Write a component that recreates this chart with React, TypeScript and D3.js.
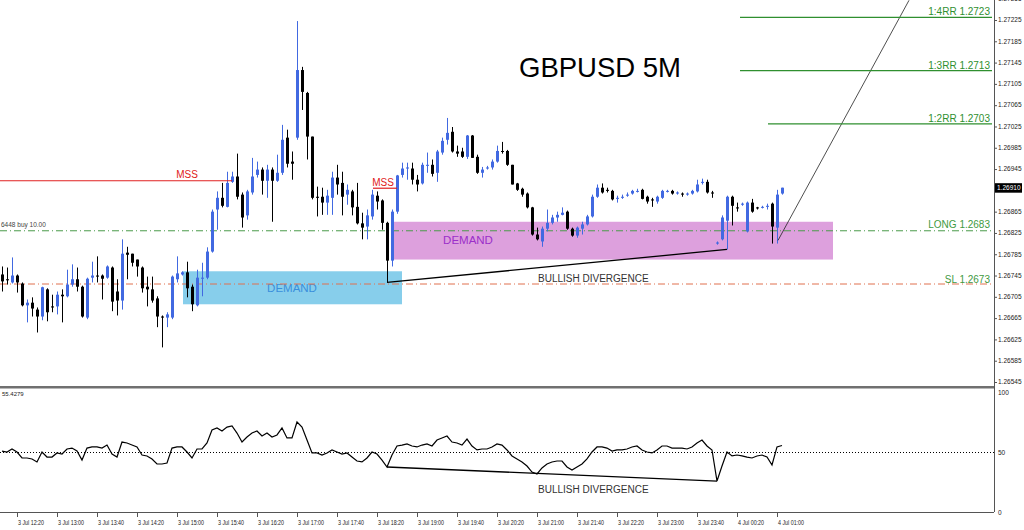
import React from "react";
import * as d3 from "d3";

// GBPUSD M5 candles, 3 Jul 12:05 -> 4 Jul 01:05
const open = [
  1.26747, 1.26738, 1.26732, 1.26745, 1.2673, 1.26689, 1.26694, 1.26681, 1.26668, 1.26719,
  1.26687, 1.26687, 1.26709, 1.26706, 1.26728, 1.26738, 1.26724, 1.26666, 1.26741, 1.26745,
  1.26745, 1.26741, 1.2676, 1.26715, 1.26698, 1.26788, 1.26786, 1.26775, 1.2676, 1.26724,
  1.26719, 1.26702, 1.26668, 1.26666, 1.26666, 1.26738, 1.26747, 1.26751, 1.26724, 1.26689,
  1.26739, 1.26741, 1.2679, 1.26869, 1.26891, 1.26874, 1.26921, 1.26931, 1.26897, 1.26858,
  1.26901, 1.26934, 1.26944, 1.26923, 1.26944, 1.26923, 1.26938, 1.27004, 1.26959, 1.27004,
  1.27131, 1.27088, 1.27006, 1.26893, 1.26893, 1.26882, 1.26891, 1.26929, 1.26919, 1.26897,
  1.26903, 1.26874, 1.26843, 1.26837, 1.26856, 1.26895, 1.26886, 1.26844, 1.26773, 1.26865,
  1.26934, 1.26946, 1.26946, 1.26925, 1.26918, 1.26951, 1.26953, 1.26938, 1.26976, 1.27,
  1.27015, 1.26978, 1.26978, 1.26968, 1.27008, 1.26968, 1.26938, 1.26946, 1.26948, 1.26959,
  1.26979, 1.26979, 1.26953, 1.26918, 1.26908, 1.26899, 1.26873, 1.26822, 1.26809, 1.26833,
  1.26844, 1.26854, 1.26859, 1.26865, 1.26833, 1.2682, 1.26833, 1.26841, 1.26856, 1.26893,
  1.2691, 1.26906, 1.26904, 1.26889, 1.26891, 1.26895, 1.26899, 1.26903, 1.26906, 1.26893,
  1.26888, 1.26884, 1.26891, 1.26903, 1.26904, 1.26899, 1.26899, 1.26897, 1.26899, 1.26903,
  1.26919, 1.26921, 1.26901, 1.26805, 1.26813, 1.26848, 1.26893, 1.26873, 1.26878, 1.26828,
  1.26882, 1.26873, 1.26873, 1.26874, 1.2688, 1.26835, 1.26899,
];
const high = [
  1.26762, 1.2676, 1.26779, 1.26747, 1.26732, 1.267, 1.26704, 1.26685, 1.26724, 1.26721,
  1.26709, 1.26715, 1.26719, 1.26756, 1.26766, 1.2676, 1.26726, 1.26741, 1.26771, 1.26781,
  1.26747, 1.26764, 1.26762, 1.26738, 1.26813, 1.26799, 1.26786, 1.26775, 1.26762, 1.26743,
  1.26743, 1.26706, 1.2667, 1.26676, 1.26745, 1.26781, 1.26753, 1.26771, 1.26728, 1.26756,
  1.26769, 1.26798, 1.26869, 1.26903, 1.26919, 1.2694, 1.2694, 1.26974, 1.26901, 1.26906,
  1.26966, 1.26959, 1.26948, 1.26953, 1.26948, 1.26972, 1.27028, 1.27019, 1.26978, 1.27223,
  1.27137, 1.2709, 1.27006, 1.26912, 1.2691, 1.26906, 1.2694, 1.26953, 1.2694, 1.26916,
  1.26906, 1.26919, 1.26863, 1.26869, 1.26906, 1.26903, 1.26888, 1.26846, 1.26869, 1.26934,
  1.26957, 1.26957, 1.26957, 1.26934, 1.26957, 1.26976, 1.26963, 1.26981, 1.27004, 1.27041,
  1.27024, 1.26989, 1.26985, 1.27009, 1.27009, 1.26972, 1.26949, 1.26951, 1.26963, 1.26989,
  1.26996, 1.26981, 1.26953, 1.26919, 1.2691, 1.26901, 1.26874, 1.26835, 1.26837, 1.26869,
  1.26859, 1.26865, 1.26873, 1.26867, 1.26835, 1.26837, 1.26846, 1.26859, 1.26897, 1.26916,
  1.26918, 1.2691, 1.26906, 1.26895, 1.26897, 1.26901, 1.26906, 1.26908, 1.26908, 1.26895,
  1.26891, 1.26895, 1.26906, 1.26906, 1.26906, 1.26903, 1.26901, 1.26901, 1.26906, 1.26925,
  1.26927, 1.26925, 1.26904, 1.26809, 1.26858, 1.26895, 1.26895, 1.26882, 1.26882, 1.26884,
  1.26889, 1.26874, 1.26876, 1.2688, 1.26882, 1.26906, 1.2691,
];
const low = [
  1.26715, 1.26728, 1.2673, 1.26713, 1.26687, 1.26657, 1.26668, 1.26638, 1.26661, 1.26659,
  1.26676, 1.26672, 1.26657, 1.26704, 1.26724, 1.26715, 1.26666, 1.26663, 1.26732, 1.26732,
  1.267, 1.26739, 1.26678, 1.2667, 1.26681, 1.26738, 1.26762, 1.26743, 1.26713, 1.26687,
  1.26694, 1.26648, 1.2661, 1.26648, 1.26663, 1.26732, 1.26745, 1.26704, 1.26678, 1.26687,
  1.26706, 1.26738, 1.26788, 1.26831, 1.26873, 1.26873, 1.26919, 1.26888, 1.26835, 1.2685,
  1.26897, 1.26929, 1.26897, 1.26891, 1.26846, 1.26921, 1.26934, 1.26948, 1.26925, 1.27,
  1.27056, 1.26963, 1.26888, 1.26856, 1.26859, 1.26859, 1.26859, 1.26897, 1.26858, 1.26878,
  1.26858, 1.26841, 1.26813, 1.26813, 1.2685, 1.26869, 1.26831, 1.26732, 1.26762, 1.26861,
  1.26929, 1.26925, 1.26916, 1.26903, 1.26916, 1.26938, 1.26931, 1.26921, 1.26972, 1.26991,
  1.26976, 1.26968, 1.26966, 1.26964, 1.26966, 1.26936, 1.26929, 1.26944, 1.26944, 1.26957,
  1.26974, 1.26951, 1.26916, 1.26904, 1.26893, 1.26871, 1.2682, 1.26811, 1.26799, 1.26828,
  1.26841, 1.26846, 1.26858, 1.26831, 1.26818, 1.26816, 1.26822, 1.26839, 1.26854, 1.26891,
  1.26899, 1.26901, 1.26886, 1.26882, 1.26889, 1.26893, 1.26897, 1.26901, 1.26888, 1.2688,
  1.26874, 1.2688, 1.26889, 1.26901, 1.26897, 1.26897, 1.26893, 1.26895, 1.26897, 1.26901,
  1.26916, 1.26899, 1.26891, 1.26803, 1.26811, 1.26794, 1.26839, 1.26865, 1.26876, 1.26826,
  1.26863, 1.26869, 1.26871, 1.26869, 1.26805, 1.26805, 1.26897,
];
const close = [
  1.26734, 1.26736, 1.26745, 1.26732, 1.26689, 1.26694, 1.26683, 1.26668, 1.26723, 1.26676,
  1.26685, 1.26709, 1.26706, 1.26728, 1.26738, 1.26724, 1.26668, 1.26739, 1.26745, 1.26743,
  1.26739, 1.26762, 1.26696, 1.26698, 1.26786, 1.26784, 1.26769, 1.26762, 1.26721, 1.26719,
  1.26698, 1.26668, 1.26666, 1.26672, 1.26743, 1.26749, 1.26751, 1.26721, 1.26691, 1.26741,
  1.26741, 1.2679, 1.26865, 1.26891, 1.26876, 1.26919, 1.26931, 1.26893, 1.26854, 1.26903,
  1.26931, 1.26944, 1.26923, 1.26944, 1.26923, 1.26938, 1.27, 1.26955, 1.26955, 1.27131,
  1.2709, 1.27006, 1.26891, 1.26891, 1.26882, 1.26895, 1.26929, 1.26916, 1.26893, 1.26906,
  1.26873, 1.26843, 1.26835, 1.26858, 1.26897, 1.26884, 1.26844, 1.26773, 1.26865, 1.26933,
  1.26946, 1.26948, 1.26925, 1.26916, 1.26953, 1.26953, 1.26936, 1.26978, 1.26998, 1.27013,
  1.26978, 1.26974, 1.26968, 1.27008, 1.26966, 1.26938, 1.26944, 1.26948, 1.26959, 1.26979,
  1.26978, 1.26953, 1.26916, 1.26906, 1.26897, 1.26873, 1.26822, 1.26813, 1.26833, 1.26844,
  1.26854, 1.26859, 1.26863, 1.26833, 1.2682, 1.26835, 1.26841, 1.26856, 1.26893, 1.2691,
  1.26901, 1.26904, 1.26888, 1.26891, 1.26893, 1.26897, 1.26904, 1.26904, 1.26889, 1.26884,
  1.26886, 1.26893, 1.26904, 1.26904, 1.26899, 1.26901, 1.26897, 1.26899, 1.26904, 1.26916,
  1.26921, 1.26901, 1.26899, 1.26807, 1.26854, 1.26893, 1.26876, 1.26871, 1.2688, 1.26882,
  1.26865, 1.26871, 1.26874, 1.26876, 1.26837, 1.26897, 1.2691,
];
// RSI(14)
const rsi = [
  50.8, 50, 52.5, 50, 45, 45, 44.2, 41.7, 50, 45.8,
  45.8, 49.2, 48.3, 52.5, 53.3, 50.8, 43.3, 53.3, 54.2, 54.2,
  53.3, 55.8, 48.3, 45.8, 58.3, 57.5, 55.8, 54.2, 47.5, 46.7,
  44.2, 40, 40, 40.8, 53.3, 54.2, 54.2, 50, 45, 52.5,
  52.5, 57.5, 68.3, 70, 67.5, 70.8, 71.7, 65.8, 58.3, 62.5,
  65.8, 67.5, 63.3, 65.8, 62.5, 64.2, 70, 61.7, 61.7, 75,
  70.8, 60, 49.2, 49.2, 47.5, 49.2, 51.7, 50, 48.3, 49.2,
  45.8, 42.5, 41.7, 45, 50, 48.3, 43.3, 37.5, 47.5, 55,
  55.8, 56.7, 55, 54.2, 55.8, 56.7, 55, 60, 61.7, 63.3,
  58.3, 57.5, 55.8, 60.8, 55, 51.7, 52.5, 52.5, 54.2, 56.7,
  55.8, 51.7, 46.7, 44.2, 41.7, 38.3, 33.3, 31.7, 36.7, 40,
  41.7, 42.5, 42.5, 37.5, 35, 37.5, 40, 44.2, 50, 54.2,
  54.2, 53.3, 50.8, 51.7, 51.7, 52.5, 54.2, 55, 51.7, 50,
  49.2, 51.7, 55, 55, 53.3, 53.3, 53.3, 52.5, 54.2, 57.5,
  60, 55, 51.7, 25.8, 38.3, 50, 46.7, 47.5, 46.7, 45.8,
  45, 46.7, 47.5, 45.8, 39.2, 54.2, 55.4279,
];

const timeLabels = [
  "3 Jul 12:20", "3 Jul 13:00", "3 Jul 13:40", "3 Jul 14:20", "3 Jul 15:00",
  "3 Jul 15:40", "3 Jul 16:20", "3 Jul 17:00", "3 Jul 17:40", "3 Jul 18:20",
  "3 Jul 19:00", "3 Jul 19:40", "3 Jul 20:20", "3 Jul 21:00", "3 Jul 21:40",
  "3 Jul 22:20", "3 Jul 23:00", "3 Jul 23:40", "4 Jul 00:20", "4 Jul 01:00",
];
const priceTicks = [
  1.27265, 1.27225, 1.27185, 1.27145, 1.27105, 1.27065, 1.27025, 1.26985, 1.26945,
  1.26865, 1.26825, 1.26785, 1.26745, 1.26705, 1.26665, 1.26625, 1.26585, 1.26545,
];
const rsiTicks = [100, 50, 0];

// trade levels
const rrLevels = [
  { label: "1:4RR 1.2723", price: 1.2723, from: 147.6 },
  { label: "1:3RR 1.2713", price: 1.2713, from: 147.6 },
  { label: "1:2RR 1.2703", price: 1.2703, from: 153.2 },
];
const entry = { label: "LONG 1.2683", price: 1.2683 };
const stop = { label: "SL 1.2673", price: 1.2673 };

const W = 1024;
const AX = 994; // price axis line
const BLUE = "#4169E1";

export default function App() {
  const n = close.length;
  const x = d3.scaleLinear().domain([0, n - 1]).range([2, 2 + 5 * (n - 1)]);
  const y = d3.scaleLinear().domain([1.26545, 1.27225]).range([382, 20]);
  const yr = d3.scaleLinear().domain([0, 100]).range([512, 392]);

  const rsiPath = d3.line<number>().x((d, i) => x(i)).y((d) => yr(d))(rsi);
  const last = close[n - 1];

  const green = "#2f8f2f";
  const font = "'Liberation Sans', Arial, sans-serif";

  return (
    <svg width={W} height={530} style={{ position: "absolute", left: 0, top: 0, background: "#fff" }} fontFamily={font}>
      <defs>
        <clipPath id="plot">
          <rect x={0} y={0} width={AX} height={387} />
        </clipPath>
        <clipPath id="sub">
          <rect x={0} y={390} width={AX} height={122} />
        </clipPath>
      </defs>

      <g clipPath="url(#plot)">
        {/* demand zones */}
        <rect x={x(36.2)} y={y(1.26753)} width={x(80) - x(36.2)} height={y(1.26691) - y(1.26753)} fill="#87CEEB" />
        <rect x={x(78.2)} y={y(1.26846)} width={x(166.2) - x(78.2)} height={y(1.26775) - y(1.26846)} fill="#DDA0DD" />
        <text x={x(58)} y={y(1.26722) + 4} textAnchor="middle" fontSize={11.5} fill="#3a8fdc">DEMAND</text>
        <text x={x(93.2)} y={y(1.26811) + 4} textAnchor="middle" fontSize={11.5} fill="#9b2fc9">DEMAND</text>

        {/* entry / stop */}
        <line x1={0} x2={AX} y1={y(entry.price) + 0.5} y2={y(entry.price) + 0.5} stroke="#4a9a4a" strokeDasharray="7,3,1,3" />
        <line x1={0} x2={AX} y1={y(stop.price) + 0.5} y2={y(stop.price) + 0.5} stroke="#e0714f" strokeDasharray="7,3,1,3" />
        <text x={1} y={y(entry.price) - 3} fontSize={6.5} fill="#444">6448 buy 10.00</text>

        {/* candles */}
        {close.map((c, i) => {
          const o = open[i];
          const col = c >= o ? BLUE : "#000";
          const cx = Math.round(x(i));
          const top = y(Math.max(o, c));
          const h = Math.max(1, Math.abs(y(o) - y(c)));
          return (
            <g key={i}>
              <line x1={cx + 0.5} x2={cx + 0.5} y1={y(high[i])} y2={y(low[i])} stroke={col} strokeWidth={1} />
              <rect x={cx - 1} y={top} width={3} height={h} fill={col} />
            </g>
          );
        })}

        {/* MSS */}
        <line x1={0} x2={x(46)} y1={y(1.26923)} y2={y(1.26923)} stroke="#e02020" strokeWidth={1.2} />
        <text x={x(37)} y={y(1.26923) - 3} textAnchor="middle" fontSize={10} fill="#e02020">MSS</text>
        <line x1={x(74.2)} x2={x(79)} y1={y(1.26909)} y2={y(1.26909)} stroke="#e02020" strokeWidth={1.2} />
        <text x={x(76.2)} y={y(1.26909) - 2.5} textAnchor="middle" fontSize={10} fill="#e02020">MSS</text>

        {/* divergence on price */}
        <line x1={x(77)} y1={y(low[77])} x2={x(145)} y2={y(low[145])} stroke="#000" strokeWidth={1.3} />
        <text x={x(107.2)} y={y(1.26741) + 4} fontSize={10} fill="#333">BULLISH DIVERGENCE</text>

        {/* projection */}
        <line x1={x(155.2)} y1={y(1.26811)} x2={x(181.4)} y2={y(1.27262)} stroke="#222" strokeWidth={0.8} />

        {/* RR targets */}
        {rrLevels.map((r) => (
          <g key={r.label}>
            <line x1={x(r.from)} x2={AX - 2} y1={y(r.price)} y2={y(r.price)} stroke={green} strokeWidth={1.3} />
            <text x={AX - 4} y={y(r.price) - 2} textAnchor="end" fontSize={10} fill={green}>{r.label}</text>
          </g>
        ))}
        <text x={AX - 4} y={y(entry.price) - 2} textAnchor="end" fontSize={10} fill="#3f9a3f">{entry.label}</text>
        <text x={AX - 4} y={y(stop.price) - 1} textAnchor="end" fontSize={10} fill="#3f9a3f">{stop.label}</text>

        <text x={600} y={77} textAnchor="middle" fontSize={27.5} fill="#000">GBPUSD 5M</text>
      </g>

      {/* panel separator and axes */}
      <rect x={0} y={386} width={AX} height={2.5} fill="#707070" />
      <line x1={AX + 0.5} x2={AX + 0.5} y1={0} y2={512} stroke="#555" />
      <line x1={0} x2={AX} y1={512.5} y2={512.5} stroke="#555" />

      {priceTicks.map((p) => (
        <g key={p}>
          <line x1={AX} x2={AX + 3} y1={y(p) + 0.5} y2={y(p) + 0.5} stroke="#555" />
          <text x={998} y={y(p) + 2.3} fontSize={6.5} fill="#222">{p.toFixed(5)}</text>
        </g>
      ))}
      <rect x={995} y={y(last) - 4.5} width={27} height={9.5} fill="#000" />
      <text x={997} y={y(last) + 2.5} fontSize={6.5} fill="#fff">{last.toFixed(5)}</text>

      {/* RSI panel */}
      <g clipPath="url(#sub)">
        <line x1={0} x2={AX} y1={yr(50) + 0.5} y2={yr(50) + 0.5} stroke="#000" strokeDasharray="1,2" />
        <path d={rsiPath ?? ""} fill="none" stroke="#000" strokeWidth={1.2} />
        <line x1={x(77)} y1={yr(rsi[77])} x2={x(143)} y2={yr(rsi[143])} stroke="#000" strokeWidth={1.3} />
        <text x={x(107.2)} y={yr(rsi[143]) + 12} fontSize={10} fill="#333">BULLISH DIVERGENCE</text>
      </g>
      <text x={2} y={396} fontSize={6} fill="#222">{rsi[n - 1].toFixed(4)}</text>
      {rsiTicks.map((v) => (
        <text key={v} x={998} y={yr(v) + 2.5} fontSize={6.5} fill="#222">{v}</text>
      ))}

      {/* time axis */}
      {timeLabels.map((t, j) => {
        const tx = Math.round(x(3 + 8 * j));
        return (
          <g key={t}>
            <line x1={tx + 0.5} x2={tx + 0.5} y1={513} y2={517} stroke="#555" />
            <text x={tx + 1} y={525} fontSize={6.5} fill="#222" textLength={26} lengthAdjust="spacingAndGlyphs">{t}</text>
          </g>
        );
      })}
    </svg>
  );
}
